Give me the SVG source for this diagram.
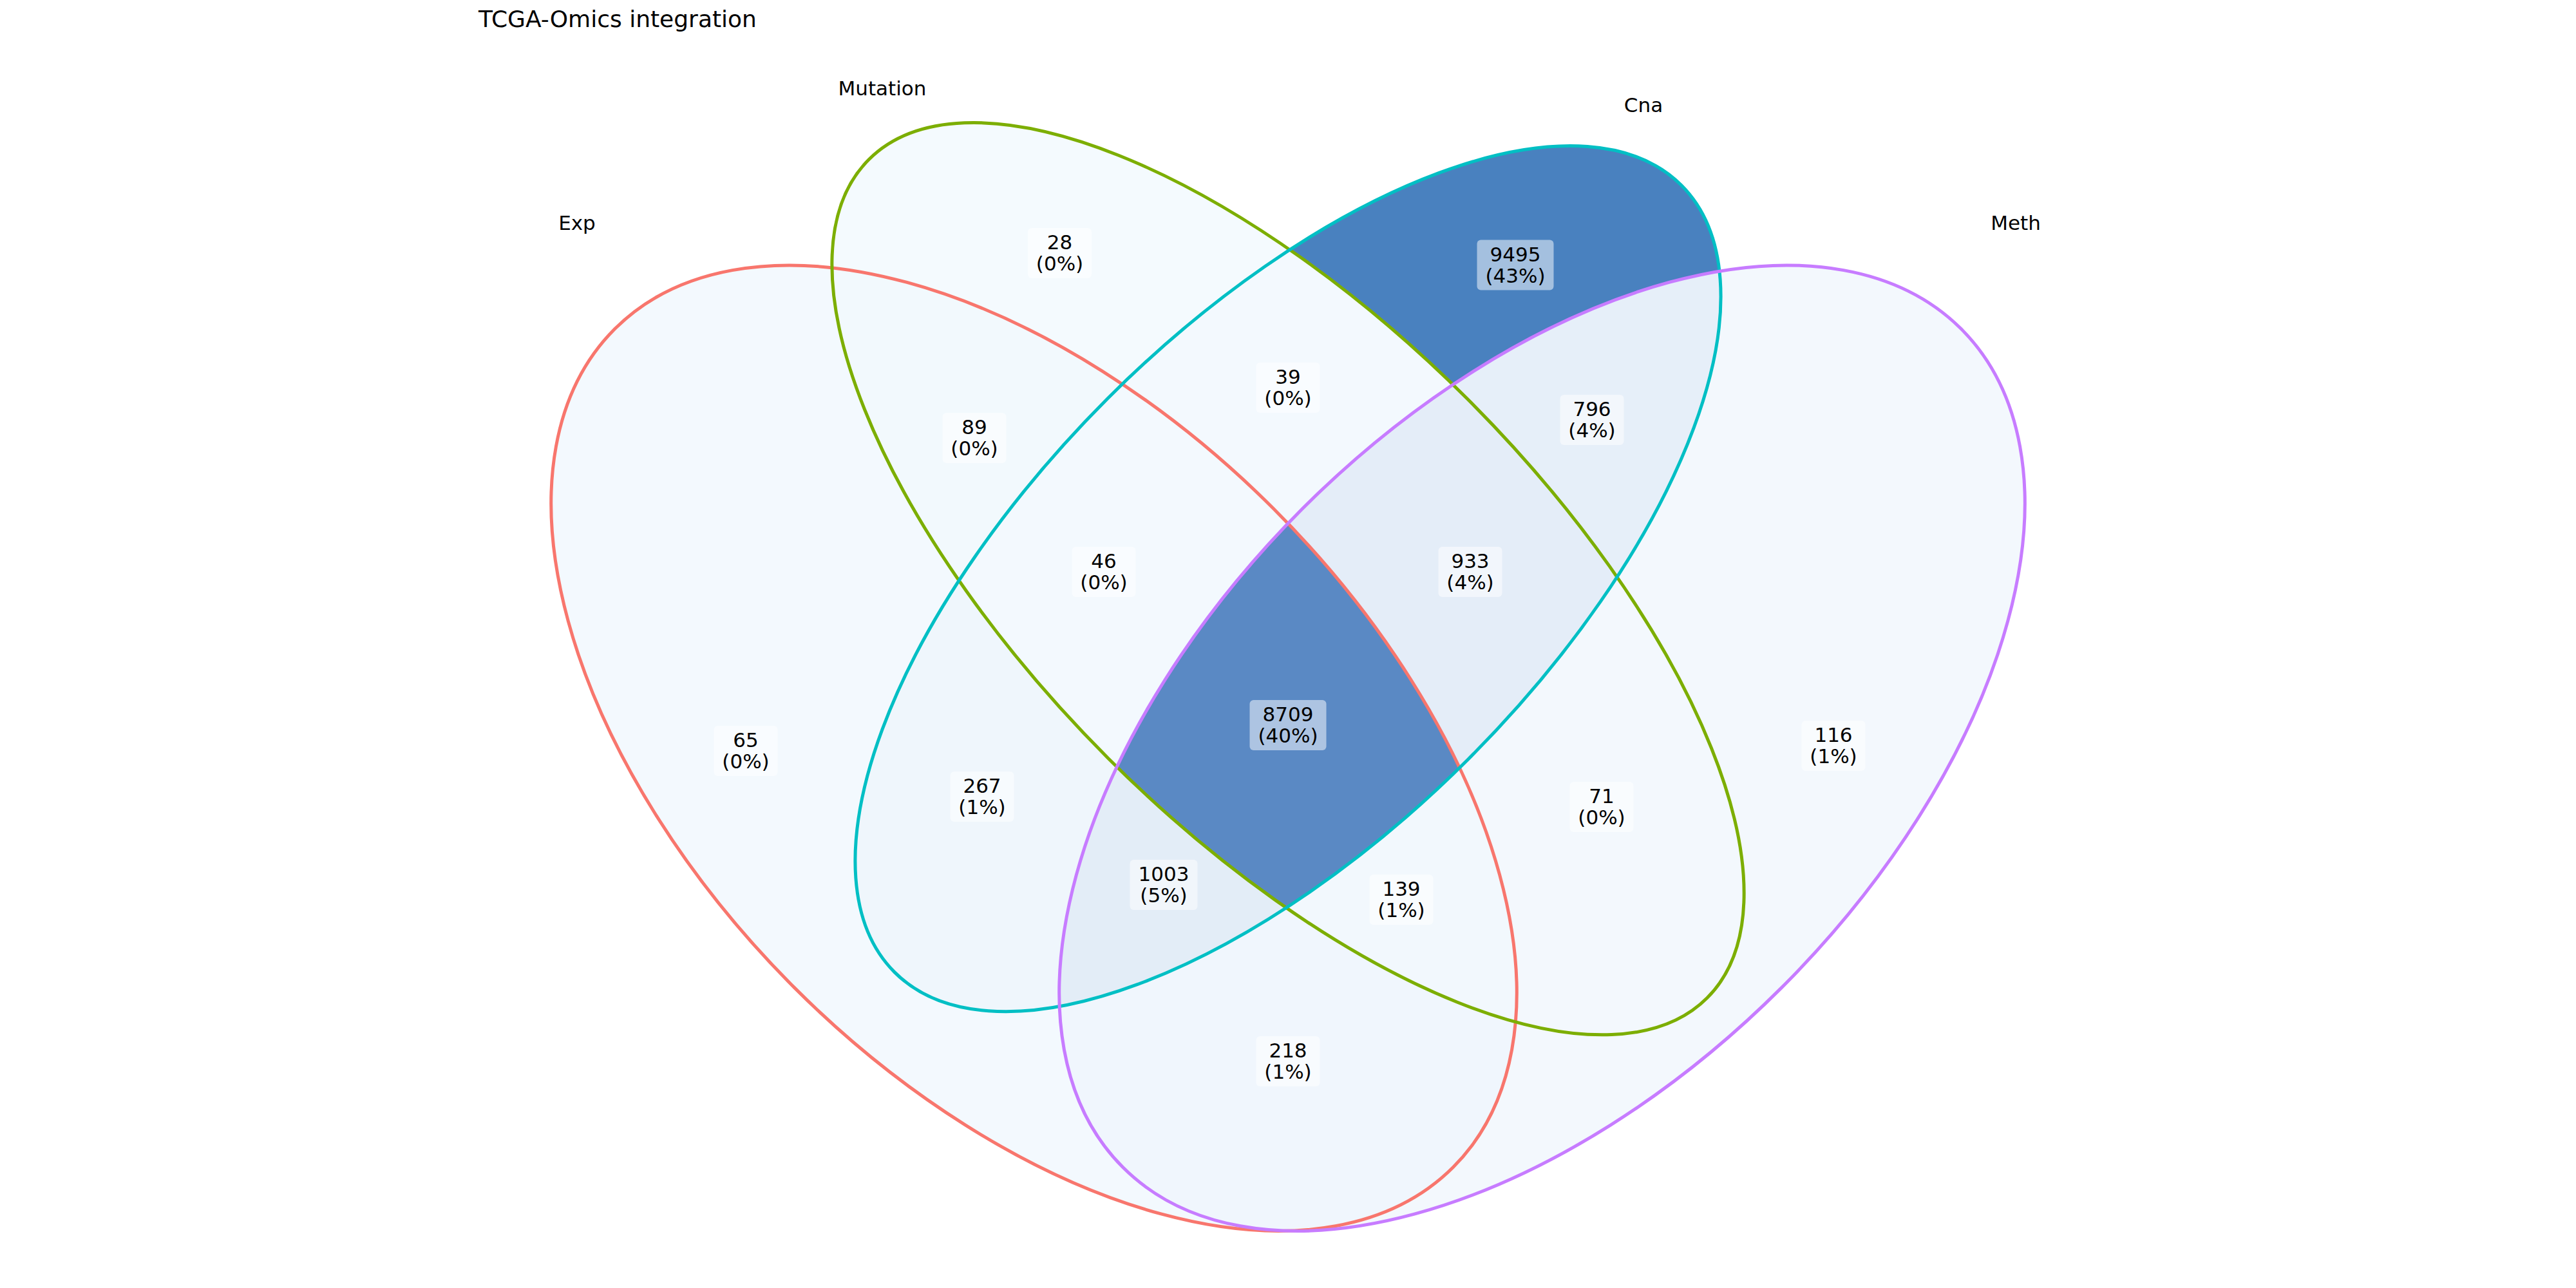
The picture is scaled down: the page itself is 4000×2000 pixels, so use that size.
<svg xmlns="http://www.w3.org/2000/svg" xmlns:xlink="http://www.w3.org/1999/xlink" width="4000" height="2000" viewBox="0 0 4000 2000">
<style>
text{font-family:"DejaVu Sans","Liberation Sans",sans-serif;fill:#000}
.title{font-size:36px}
.setname{font-size:31px;text-anchor:middle}
.cnt{font-size:31px;text-anchor:middle}
.box{fill:#fff;fill-opacity:0.5}
.edge{fill:none;stroke-width:5}
</style>
<defs>
<ellipse id="eE" cx="1605.5" cy="1161.7" rx="920.5" ry="526" transform="rotate(45 1605.5 1161.7)"/>
<ellipse id="eM" cx="2000" cy="898.7" rx="920.5" ry="394.5" transform="rotate(45 2000 898.7)"/>
<ellipse id="eC" cx="2000" cy="898.7" rx="864" ry="396" transform="rotate(-45 2000 898.7)"/>
<ellipse id="eT" cx="2394.5" cy="1161.7" rx="920.5" ry="526" transform="rotate(-45 2394.5 1161.7)"/>
<clipPath id="cE"><use xlink:href="#eE"/></clipPath>
<clipPath id="cM"><use xlink:href="#eM"/></clipPath>
<clipPath id="cC"><use xlink:href="#eC"/></clipPath>
<clipPath id="cT"><use xlink:href="#eT"/></clipPath>
</defs>
<rect width="4000" height="2000" fill="#fff"/>
<text class="title" x="743" y="42">TCGA-Omics integration</text>
<g id="regions">
<use id="r-E" xlink:href="#eE" fill="#F3F9FE"/>
<use id="r-M" xlink:href="#eM" fill="#F4FAFE"/>
<use id="r-C" xlink:href="#eC" fill="#4981BF"/>
<use id="r-T" xlink:href="#eT" fill="#F3F8FD"/>
<g id="r-EM" clip-path="url(#cE)"><use xlink:href="#eM" fill="#F2F9FD"/></g>
<g id="r-EC" clip-path="url(#cE)"><use xlink:href="#eC" fill="#EFF6FC"/></g>
<g id="r-ET" clip-path="url(#cE)"><use xlink:href="#eT" fill="#F0F6FD"/></g>
<g id="r-MC" clip-path="url(#cM)"><use xlink:href="#eC" fill="#F3F9FE"/></g>
<g id="r-MT" clip-path="url(#cM)"><use xlink:href="#eT" fill="#F3F8FD"/></g>
<g id="r-CT" clip-path="url(#cC)"><use xlink:href="#eT" fill="#E6EFF9"/></g>
<g id="r-EMC" clip-path="url(#cE)"><g clip-path="url(#cM)"><use xlink:href="#eC" fill="#F3F9FE"/></g></g>
<g id="r-EMT" clip-path="url(#cE)"><g clip-path="url(#cM)"><use xlink:href="#eT" fill="#F2F8FD"/></g></g>
<g id="r-ECT" clip-path="url(#cE)"><g clip-path="url(#cC)"><use xlink:href="#eT" fill="#E3EDF7"/></g></g>
<g id="r-MCT" clip-path="url(#cM)"><g clip-path="url(#cC)"><use xlink:href="#eT" fill="#E4EDF8"/></g></g>
<g id="r-EMCT" clip-path="url(#cE)"><g clip-path="url(#cM)"><g clip-path="url(#cC)"><use xlink:href="#eT" fill="#5A89C4"/></g></g></g>
</g>
<g id="set-edges">
<use id="edge-Exp" xlink:href="#eE" class="edge" stroke="#F8766D"/>
<use id="edge-Mutation" xlink:href="#eM" class="edge" stroke="#7CAE00"/>
<use id="edge-Cna" xlink:href="#eC" class="edge" stroke="#00BFC4"/>
<use id="edge-Meth" xlink:href="#eT" class="edge" stroke="#C77CFF"/>
</g>
<g id="set-labels">
<text id="name-Exp" class="setname" x="896" y="357">Exp</text>
<text id="name-Mutation" class="setname" x="1370" y="148">Mutation</text>
<text id="name-Cna" class="setname" x="2552" y="174">Cna</text>
<text id="name-Meth" class="setname" x="3130" y="357">Meth</text>
</g>
<g id="region-labels">
<g id="lab-28"><rect class="box" x="1596" y="354" width="99" height="78" rx="6"/><text class="cnt"><tspan x="1645.5" y="387">28</tspan><tspan x="1645.5" y="420">(0%)</tspan></text></g>
<g id="lab-9495"><rect class="box" x="2293.5" y="372.5" width="119" height="78" rx="6"/><text class="cnt"><tspan x="2353" y="405.5">9495</tspan><tspan x="2353" y="438.5">(43%)</tspan></text></g>
<g id="lab-39"><rect class="box" x="1950.5" y="563" width="99" height="78" rx="6"/><text class="cnt"><tspan x="2000" y="596">39</tspan><tspan x="2000" y="629">(0%)</tspan></text></g>
<g id="lab-89"><rect class="box" x="1463.5" y="641" width="99" height="78" rx="6"/><text class="cnt"><tspan x="1513" y="674">89</tspan><tspan x="1513" y="707">(0%)</tspan></text></g>
<g id="lab-796"><rect class="box" x="2422.5" y="613" width="99" height="78" rx="6"/><text class="cnt"><tspan x="2472" y="646">796</tspan><tspan x="2472" y="679">(4%)</tspan></text></g>
<g id="lab-46"><rect class="box" x="1664.5" y="849" width="99" height="78" rx="6"/><text class="cnt"><tspan x="1714" y="882">46</tspan><tspan x="1714" y="915">(0%)</tspan></text></g>
<g id="lab-933"><rect class="box" x="2233.5" y="849" width="99" height="78" rx="6"/><text class="cnt"><tspan x="2283" y="882">933</tspan><tspan x="2283" y="915">(4%)</tspan></text></g>
<g id="lab-8709"><rect class="box" x="1940.5" y="1087" width="119" height="78" rx="6"/><text class="cnt"><tspan x="2000" y="1120">8709</tspan><tspan x="2000" y="1153">(40%)</tspan></text></g>
<g id="lab-65"><rect class="box" x="1108.5" y="1127" width="99" height="78" rx="6"/><text class="cnt"><tspan x="1158" y="1160">65</tspan><tspan x="1158" y="1193">(0%)</tspan></text></g>
<g id="lab-116"><rect class="box" x="2797.5" y="1119" width="99" height="78" rx="6"/><text class="cnt"><tspan x="2847" y="1152">116</tspan><tspan x="2847" y="1185">(1%)</tspan></text></g>
<g id="lab-267"><rect class="box" x="1475.5" y="1198" width="99" height="78" rx="6"/><text class="cnt"><tspan x="1525" y="1231">267</tspan><tspan x="1525" y="1264">(1%)</tspan></text></g>
<g id="lab-71"><rect class="box" x="2437.5" y="1214" width="99" height="78" rx="6"/><text class="cnt"><tspan x="2487" y="1247">71</tspan><tspan x="2487" y="1280">(0%)</tspan></text></g>
<g id="lab-1003"><rect class="box" x="1754.5" y="1335" width="105" height="78" rx="6"/><text class="cnt"><tspan x="1807" y="1368">1003</tspan><tspan x="1807" y="1401">(5%)</tspan></text></g>
<g id="lab-139"><rect class="box" x="2126.5" y="1358" width="99" height="78" rx="6"/><text class="cnt"><tspan x="2176" y="1391">139</tspan><tspan x="2176" y="1424">(1%)</tspan></text></g>
<g id="lab-218"><rect class="box" x="1950.5" y="1609" width="99" height="78" rx="6"/><text class="cnt"><tspan x="2000" y="1642">218</tspan><tspan x="2000" y="1675">(1%)</tspan></text></g>
</g>
</svg>
